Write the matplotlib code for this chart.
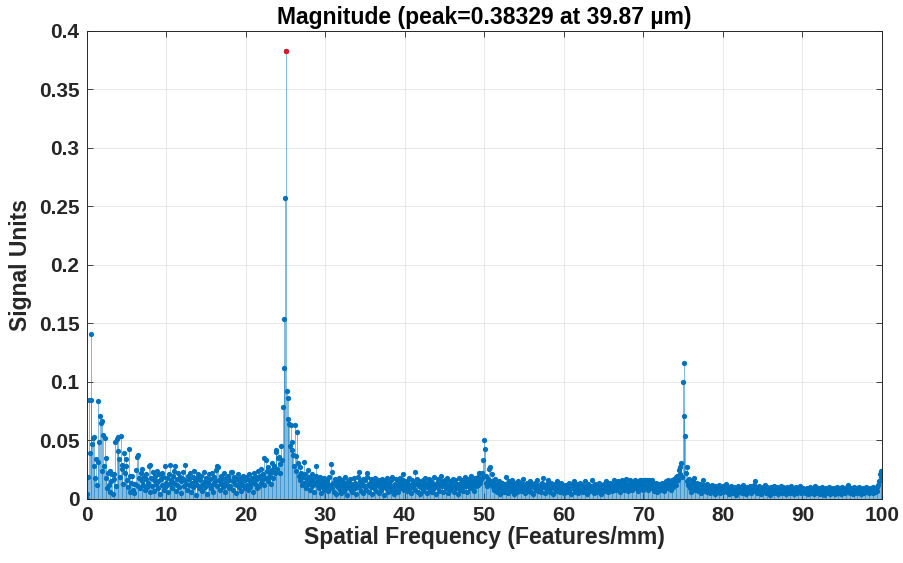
import numpy as np
import matplotlib
matplotlib.use("Agg")
import matplotlib.pyplot as plt

# magnitude, one list per ~10 features/mm
mag_00 = [0.000, 0.004, 0.019, 0.085, 0.039, 0.141, 0.085, 0.047, 0.052, 0.028,
          0.053, 0.018, 0.034, 0.012, 0.032, 0.084, 0.049, 0.071, 0.065, 0.024,
          0.067, 0.055, 0.028, 0.052, 0.018, 0.035, 0.009, 0.022, 0.012, 0.024,
          0.006, 0.015, 0.021, 0.004, 0.017, 0.021, 0.049, 0.011, 0.051, 0.041,
          0.053, 0.034, 0.019, 0.054, 0.026, 0.029, 0.013, 0.039, 0.022, 0.034,
          0.028, 0.016, 0.010, 0.043, 0.020, 0.006, 0.014, 0.020, 0.008, 0.013,
          0.005, 0.013, 0.025, 0.036, 0.011, 0.038, 0.018, 0.009, 0.022, 0.015,
          0.026, 0.012, 0.019, 0.008, 0.017, 0.021, 0.010, 0.014, 0.028, 0.006,
          0.029, 0.018, 0.011, 0.023, 0.016, 0.007, 0.020, 0.013, 0.024, 0.009,
          0.015, 0.021, 0.004, 0.017, 0.012, 0.022, 0.019, 0.008, 0.028, 0.014]
mag_10 = [0.011, 0.018, 0.006, 0.021, 0.013, 0.029, 0.016, 0.009, 0.020, 0.014,
          0.024, 0.028, 0.007, 0.017, 0.012, 0.022, 0.010, 0.019, 0.015, 0.005,
          0.018, 0.023, 0.011, 0.016, 0.029, 0.013, 0.008, 0.020, 0.012, 0.017,
          0.022, 0.006, 0.014, 0.019, 0.010, 0.024, 0.015, 0.003, 0.012, 0.018,
          0.021, 0.009, 0.016, 0.011, 0.020, 0.007, 0.013, 0.023, 0.015, 0.010,
          0.018, 0.004, 0.014, 0.021, 0.012, 0.017, 0.009, 0.022, 0.013, 0.006,
          0.019, 0.015, 0.025, 0.011, 0.028, 0.027, 0.016, 0.008, 0.020, 0.013,
          0.017, 0.010, 0.022, 0.014, 0.006, 0.018, 0.012, 0.020, 0.009, 0.016,
          0.011, 0.023, 0.023, 0.015, 0.008, 0.019, 0.013, 0.005, 0.017, 0.012,
          0.021, 0.010, 0.015, 0.007, 0.018, 0.013, 0.020, 0.011, 0.016, 0.009]
mag_20 = [0.019, 0.012, 0.008, 0.016, 0.021, 0.010, 0.014, 0.018, 0.006, 0.015,
          0.022, 0.013, 0.019, 0.009, 0.017, 0.024, 0.011, 0.020, 0.014, 0.026,
          0.016, 0.021, 0.012, 0.035, 0.018, 0.033, 0.024, 0.015, 0.027, 0.019,
          0.022, 0.013, 0.025, 0.031, 0.018, 0.028, 0.022, 0.040, 0.042, 0.026,
          0.035, 0.036, 0.030, 0.022, 0.045, 0.033, 0.079, 0.112, 0.154, 0.257,
          0.383, 0.092, 0.086, 0.068, 0.064, 0.045, 0.063, 0.049, 0.042, 0.038,
          0.028, 0.063, 0.037, 0.024, 0.057, 0.031, 0.020, 0.027, 0.016, 0.022,
          0.012, 0.019, 0.032, 0.014, 0.021, 0.009, 0.017, 0.025, 0.013, 0.019,
          0.008, 0.015, 0.021, 0.011, 0.017, 0.006, 0.014, 0.020, 0.028, 0.012,
          0.016, 0.009, 0.019, 0.013, 0.005, 0.015, 0.011, 0.018, 0.008, 0.014]
mag_30 = [0.010, 0.016, 0.007, 0.013, 0.019, 0.011, 0.030, 0.023, 0.009, 0.014,
          0.006, 0.017, 0.012, 0.004, 0.015, 0.010, 0.018, 0.008, 0.013, 0.005,
          0.016, 0.011, 0.007, 0.014, 0.019, 0.009, 0.012, 0.003, 0.015, 0.010,
          0.017, 0.008, 0.013, 0.006, 0.011, 0.018, 0.009, 0.014, 0.004, 0.012,
          0.019, 0.023, 0.010, 0.015, 0.007, 0.013, 0.017, 0.005, 0.011, 0.016,
          0.008, 0.022, 0.019, 0.012, 0.006, 0.014, 0.010, 0.017, 0.004, 0.013,
          0.009, 0.015, 0.018, 0.007, 0.012, 0.016, 0.005, 0.011, 0.014, 0.008,
          0.017, 0.010, 0.013, 0.003, 0.015, 0.009, 0.012, 0.018, 0.006, 0.014,
          0.010, 0.016, 0.007, 0.019, 0.011, 0.004, 0.013, 0.008, 0.017, 0.012,
          0.006, 0.015, 0.010, 0.018, 0.009, 0.013, 0.016, 0.021, 0.008, 0.012]
mag_40 = [0.011, 0.015, 0.007, 0.013, 0.018, 0.009, 0.012, 0.005, 0.016, 0.010,
          0.014, 0.023, 0.008, 0.013, 0.017, 0.006, 0.011, 0.015, 0.004, 0.012,
          0.009, 0.016, 0.007, 0.013, 0.018, 0.010, 0.014, 0.005, 0.012, 0.017,
          0.008, 0.011, 0.015, 0.006, 0.013, 0.019, 0.009, 0.012, 0.004, 0.014,
          0.010, 0.017, 0.007, 0.013, 0.020, 0.011, 0.015, 0.006, 0.012, 0.016,
          0.009, 0.013, 0.018, 0.005, 0.011, 0.015, 0.008, 0.014, 0.010, 0.017,
          0.006, 0.012, 0.016, 0.009, 0.013, 0.004, 0.011, 0.018, 0.008, 0.014,
          0.010, 0.016, 0.007, 0.013, 0.019, 0.011, 0.015, 0.006, 0.012, 0.017,
          0.009, 0.014, 0.020, 0.010, 0.016, 0.007, 0.013, 0.018, 0.011, 0.015,
          0.019, 0.012, 0.022, 0.014, 0.017, 0.022, 0.018, 0.033, 0.050, 0.043]
mag_50 = [0.014, 0.020, 0.011, 0.017, 0.026, 0.013, 0.027, 0.015, 0.021, 0.010,
          0.014, 0.008, 0.017, 0.011, 0.006, 0.013, 0.009, 0.015, 0.004, 0.012,
          0.008, 0.014, 0.010, 0.006, 0.013, 0.019, 0.009, 0.012, 0.005, 0.015,
          0.010, 0.007, 0.013, 0.016, 0.008, 0.011, 0.004, 0.014, 0.009, 0.012,
          0.006, 0.015, 0.010, 0.013, 0.007, 0.011, 0.014, 0.017, 0.008, 0.012,
          0.005, 0.010, 0.014, 0.007, 0.012, 0.009, 0.015, 0.006, 0.011, 0.013,
          0.004, 0.010, 0.014, 0.008, 0.012, 0.016, 0.007, 0.011, 0.009, 0.013,
          0.006, 0.014, 0.018, 0.010, 0.012, 0.005, 0.009, 0.013, 0.016, 0.008,
          0.011, 0.006, 0.014, 0.010, 0.012, 0.004, 0.009, 0.013, 0.007, 0.011,
          0.015, 0.008, 0.012, 0.006, 0.010, 0.014, 0.009, 0.012, 0.005, 0.011]
mag_60 = [0.008, 0.012, 0.006, 0.010, 0.014, 0.007, 0.011, 0.004, 0.013, 0.009,
          0.012, 0.015, 0.006, 0.010, 0.008, 0.013, 0.005, 0.011, 0.014, 0.007,
          0.010, 0.012, 0.006, 0.009, 0.015, 0.008, 0.011, 0.004, 0.013, 0.009,
          0.012, 0.007, 0.010, 0.016, 0.008, 0.011, 0.005, 0.013, 0.009, 0.012,
          0.006, 0.010, 0.014, 0.008, 0.011, 0.004, 0.012, 0.009, 0.013, 0.007,
          0.010, 0.015, 0.008, 0.012, 0.006, 0.011, 0.014, 0.009, 0.013, 0.007,
          0.010, 0.016, 0.011, 0.008, 0.013, 0.009, 0.015, 0.012, 0.006, 0.014,
          0.010, 0.016, 0.011, 0.008, 0.015, 0.012, 0.017, 0.009, 0.013, 0.007,
          0.012, 0.016, 0.010, 0.014, 0.008, 0.013, 0.011, 0.016, 0.009, 0.014,
          0.012, 0.007, 0.015, 0.016, 0.010, 0.016, 0.013, 0.008, 0.016, 0.012]
mag_70 = [0.016, 0.010, 0.016, 0.013, 0.008, 0.016, 0.011, 0.014, 0.016, 0.009,
          0.013, 0.007, 0.012, 0.010, 0.014, 0.006, 0.011, 0.013, 0.008, 0.012,
          0.009, 0.014, 0.011, 0.007, 0.013, 0.010, 0.015, 0.009, 0.012, 0.016,
          0.011, 0.014, 0.008, 0.016, 0.013, 0.010, 0.017, 0.014, 0.019, 0.012,
          0.020, 0.016, 0.025, 0.021, 0.027, 0.031, 0.019, 0.100, 0.071, 0.116,
          0.054, 0.022, 0.027, 0.015, 0.012, 0.017, 0.009, 0.013, 0.006, 0.011,
          0.015, 0.018, 0.008, 0.012, 0.010, 0.014, 0.007, 0.011, 0.009, 0.013,
          0.005, 0.010, 0.016, 0.008, 0.012, 0.007, 0.010, 0.013, 0.006, 0.009,
          0.011, 0.005, 0.010, 0.008, 0.012, 0.006, 0.009, 0.011, 0.004, 0.008,
          0.010, 0.006, 0.009, 0.012, 0.005, 0.008, 0.010, 0.006, 0.011, 0.007]
mag_80 = [0.009, 0.013, 0.006, 0.008, 0.010, 0.004, 0.009, 0.007, 0.011, 0.005,
          0.008, 0.010, 0.006, 0.009, 0.003, 0.008, 0.011, 0.006, 0.009, 0.007,
          0.010, 0.005, 0.008, 0.012, 0.006, 0.009, 0.004, 0.008, 0.010, 0.006,
          0.009, 0.011, 0.005, 0.008, 0.007, 0.010, 0.012, 0.015, 0.007, 0.009,
          0.005, 0.008, 0.011, 0.006, 0.009, 0.004, 0.008, 0.010, 0.006, 0.009,
          0.012, 0.005, 0.008, 0.010, 0.006, 0.009, 0.003, 0.007, 0.010, 0.006,
          0.008, 0.011, 0.005, 0.009, 0.007, 0.010, 0.004, 0.008, 0.006, 0.009,
          0.011, 0.005, 0.008, 0.010, 0.006, 0.009, 0.004, 0.007, 0.010, 0.006,
          0.009, 0.005, 0.008, 0.011, 0.006, 0.008, 0.004, 0.009, 0.007, 0.010,
          0.005, 0.008, 0.006, 0.009, 0.011, 0.005, 0.008, 0.006, 0.009, 0.007]
mag_90 = [0.005, 0.008, 0.006, 0.009, 0.004, 0.007, 0.010, 0.005, 0.008, 0.006,
          0.009, 0.004, 0.007, 0.011, 0.006, 0.008, 0.005, 0.009, 0.007, 0.004,
          0.008, 0.010, 0.006, 0.008, 0.003, 0.007, 0.009, 0.005, 0.008, 0.006,
          0.010, 0.004, 0.007, 0.009, 0.005, 0.008, 0.006, 0.009, 0.004, 0.007,
          0.010, 0.005, 0.008, 0.006, 0.009, 0.004, 0.007, 0.010, 0.006, 0.008,
          0.005, 0.009, 0.007, 0.010, 0.012, 0.006, 0.008, 0.005, 0.009, 0.007,
          0.004, 0.008, 0.010, 0.006, 0.008, 0.005, 0.009, 0.007, 0.010, 0.006,
          0.008, 0.004, 0.007, 0.009, 0.005, 0.008, 0.006, 0.010, 0.007, 0.009,
          0.005, 0.008, 0.006, 0.009, 0.007, 0.010, 0.005, 0.008, 0.006, 0.009,
          0.007, 0.010, 0.012, 0.015, 0.021, 0.024, 0.019]

mag = np.array(mag_00 + mag_10 + mag_20 + mag_30 + mag_40 +
               mag_50 + mag_60 + mag_70 + mag_80 + mag_90)

period_um = 39.87
peak_val = 0.38329
peak_idx = 250
df = 1000.0 / period_um / peak_idx
freq = np.arange(len(mag)) * df

blue = "#0072BD"
font = ["Liberation Sans", "DejaVu Sans"]
plt.rcParams["font.family"] = font
plt.rcParams["font.weight"] = "bold"

fig = plt.figure(figsize=(9.04, 5.63), dpi=100)
ax = fig.add_axes([0.0957, 0.1137, 0.88, 0.8313])

ml, sl, bl = ax.stem(freq, mag, linefmt="-", markerfmt="o", basefmt=" ")
sl.set_color(blue)
sl.set_linewidth(0.7)
sl.set_alpha(0.5)
ml.set_color(blue)
ml.set_markersize(3.8)
ml.set_markeredgewidth(0)
ax.plot(freq[peak_idx], peak_val, "o", color="#E8141E", markersize=3.8,
        markeredgewidth=0, zorder=5)

ax.set_xlim(0, 100)
ax.set_ylim(0, 0.4)
ax.set_xticks(np.arange(0, 101, 10))
ax.set_yticks(np.arange(0, 0.401, 0.05))
ax.set_yticklabels(["0", "0.05", "0.1", "0.15", "0.2", "0.25", "0.3", "0.35", "0.4"])

ax.grid(True, color="#262626", alpha=0.12, linewidth=0.6)
ax.set_axisbelow(True)
ax.tick_params(direction="in", length=4, width=0.6, top=True, right=True,
               labelsize=15, colors="#262626", labelcolor="#262626", pad=5)
for t in ax.get_xticklabels() + ax.get_yticklabels():
    t.set_fontweight("bold")
for s in ax.spines.values():
    s.set_color("#262626")
    s.set_linewidth(0.7)

ax.set_xlabel("Spatial Frequency (Features/mm)", fontsize=16.5, fontweight="bold",
              color="#262626", labelpad=1)
ax.set_ylabel("Signal Units", fontsize=16.5, fontweight="bold", color="#262626",
              labelpad=5)
ax.set_title(f"Magnitude (peak={peak_val:.5f} at {period_um:.2f} µm)", fontsize=16.5,
             fontweight="bold", color="#000000", pad=5)

fig.savefig("out.png", dpi=100)
